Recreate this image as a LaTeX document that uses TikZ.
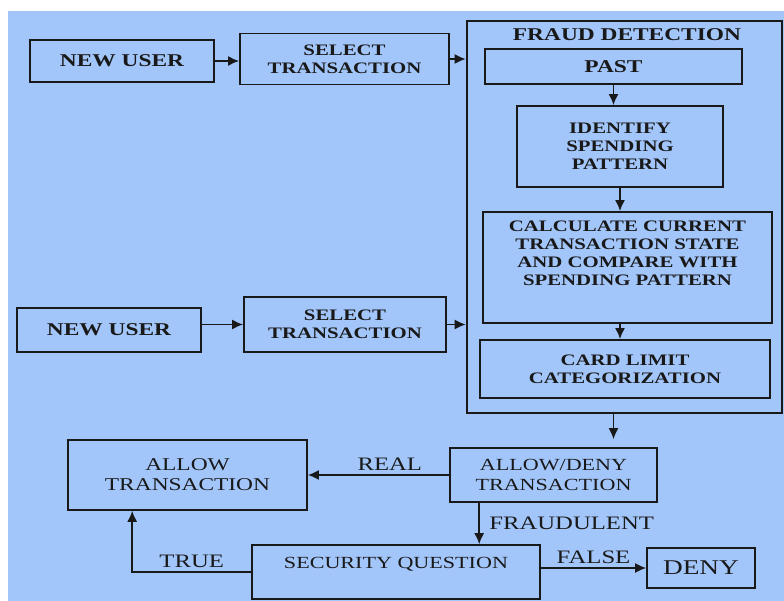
\documentclass[tikz,border=0pt]{standalone}
\usepackage{fontspec}
\setmainfont[FakeStretch=1.3]{Liberation Serif}
\usetikzlibrary{arrows.meta}
\definecolor{bgblue}{RGB}{163,198,250}
\definecolor{ink}{RGB}{25,25,25}

\begin{document}
\begin{tikzpicture}[x=1pt,y=-1pt,
    box/.style={draw=ink,line width=1.8pt,inner sep=2pt,align=center,text=ink,font=\fontsize{16}{18}\selectfont\bfseries},
    lbox/.style={draw=ink,line width=1.6pt,inner sep=2pt,align=center,text=ink,font=\fontsize{17}{20}\selectfont},
    arr/.style={draw=ink,line width=1.6pt,-{Latex[length=11pt,width=10pt]}},
    lbl/.style={text=ink,font=\fontsize{19}{21}\selectfont}]
\useasboundingbox (0,0) rectangle (784,601);
\fill[bgblue] (8,11) rectangle (784,601);

% upper path
\node(nu1)[box,minimum width=184,minimum height=42,font=\fontsize{18}{20}\selectfont\bfseries] at (122,61){NEW USER};
\node(st1)[box,minimum width=209,minimum height=51] at (344.5,59){SELECT\\TRANSACTION};

% fraud detection block
\node(fd)[draw=ink,line width=2.6pt,minimum width=315,minimum height=392] at (624.5,217){};
\node(fdt)[text=ink,font=\fontsize{18}{20}\selectfont\bfseries] at (627,35){FRAUD DETECTION};
\node(past)[box,minimum width=257,minimum height=35,font=\fontsize{18}{20}\selectfont\bfseries] at (613.5,66.5){PAST};
\node(ident)[box,minimum width=206,minimum height=81] at (620,146.5){IDENTIFY\\SPENDING\\PATTERN};
\node(calc)[box,minimum width=289,minimum height=111] at (627.5,267.5){CALCULATE CURRENT\\TRANSACTION STATE\\AND COMPARE WITH\\SPENDING PATTERN\\[6pt]\strut};
\node(card)[box,minimum width=290,minimum height=58] at (625,369){CARD LIMIT\\CATEGORIZATION};

% lower path
\node(nu2)[box,minimum width=184,minimum height=44,font=\fontsize{18}{20}\selectfont\bfseries] at (109,330){NEW USER};
\node(st2)[box,minimum width=202,minimum height=55] at (345,324.5){SELECT\\TRANSACTION};

% decision
\node(al)[lbox,minimum width=239,minimum height=70,font=\fontsize{18}{20}\selectfont] at (187.5,475){ALLOW\\TRANSACTION};
\node(ad)[lbox,minimum width=207,minimum height=54] at (553.5,475){ALLOW/DENY\\TRANSACTION};
\node(sq)[lbox,minimum width=288,minimum height=54,text depth=18pt] at (396,572){SECURITY QUESTION};
\node(dn)[lbox,minimum width=108,minimum height=40,font=\fontsize{21}{23}\selectfont] at (701,568){DENY};

\draw[arr] (nu1) -- (nu1 -| st1.west);
\draw[arr] (st1.east) -- (st1.east -| fd.west);
\draw[arr] (st2.west -| nu2.east) -- (st2.west);
\draw[arr] (st2.east) -- (st2.east -| fd.west);
\draw[arr] (past.south) -- (past.south |- ident.north);
\draw[arr] (ident.south) -- (ident.south |- calc.north);
\draw[arr] (ident.south |- calc.south) -- (ident.south |- card.north);
\draw[arr,shorten >=8pt] (past.south |- fd.south) -- (past.south |- ad.north);
\draw[arr] (ad.west) -- (ad.west -| al.east) node[lbl,above,pos=.42]{REAL};
\draw[arr] ([xshift=30]ad.south west) -- ([xshift=30]ad.south west |- sq.north) node[lbl,right=6pt,midway]{FRAUDULENT};
\draw[arr] (dn.west -| sq.east) -- (dn.west) node[lbl,above,midway]{FALSE};
\draw[arr] (sq.west) -| ([xshift=65]al.south west) node[lbl,above,pos=.25]{TRUE};
\end{tikzpicture}
\end{document}
